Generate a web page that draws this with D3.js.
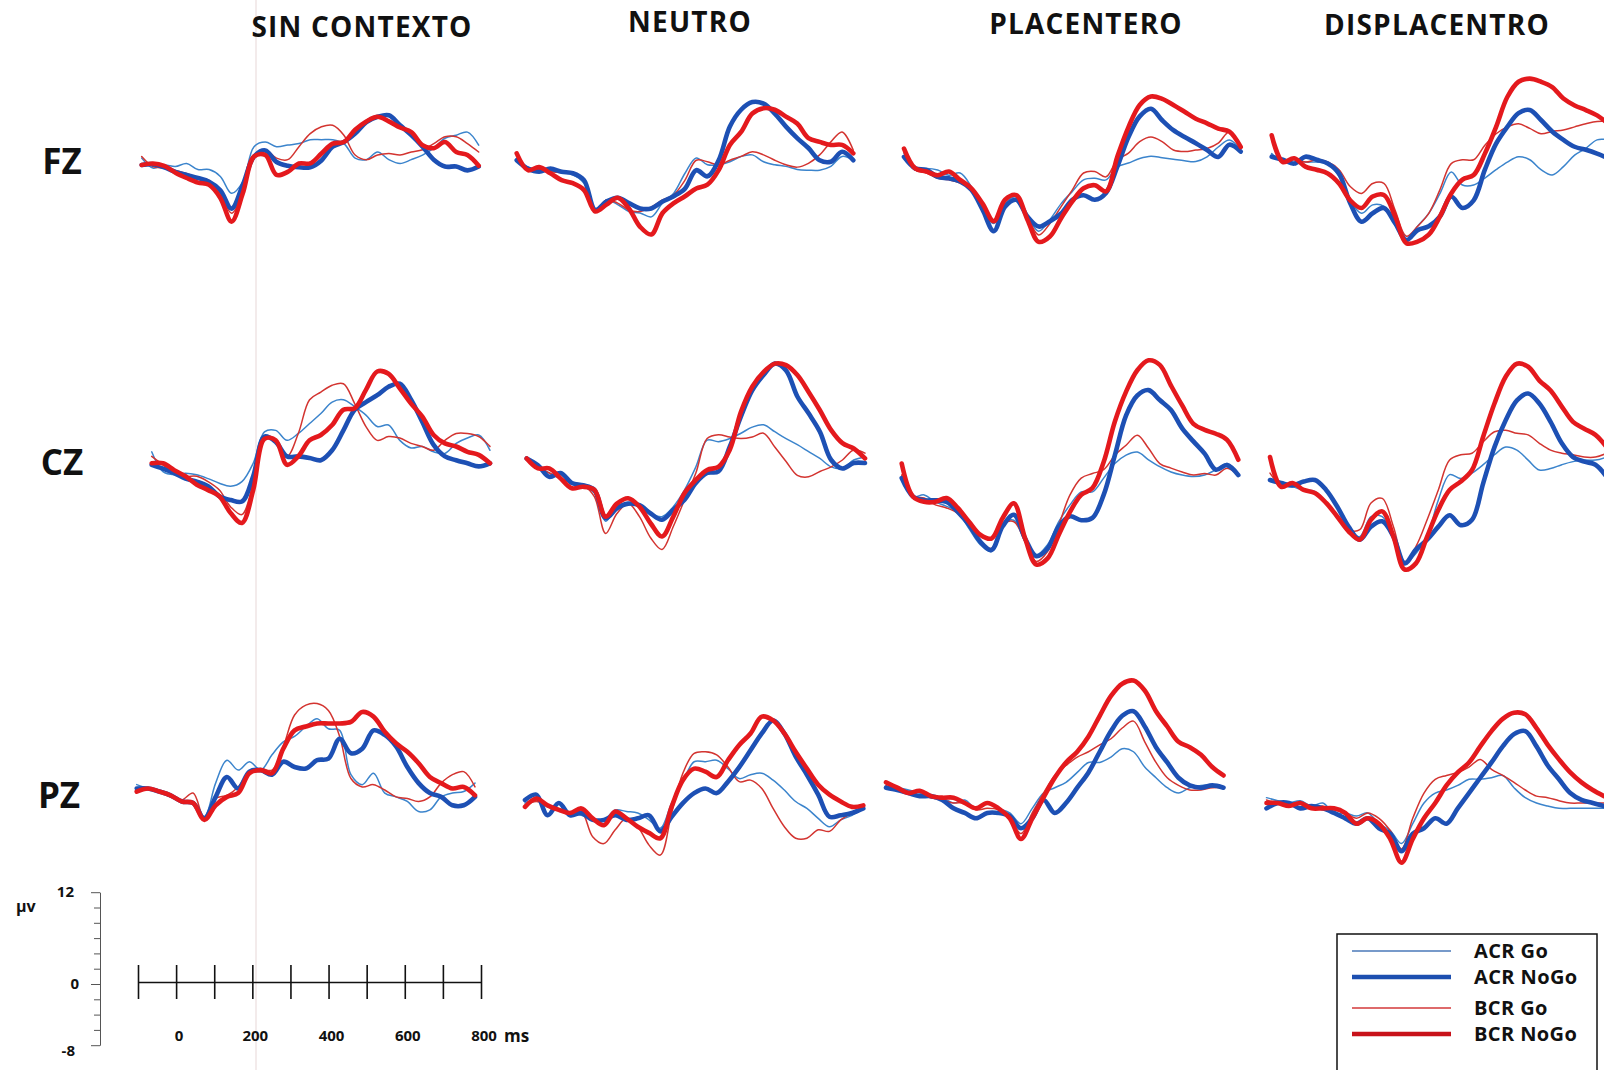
<!DOCTYPE html>
<head>
<meta charset="utf-8">
<title>ERP Go/NoGo</title>
<style>
  body { margin: 0; background: #fff; }
  text { font-family: "Open Sans", "DejaVu Sans", sans-serif; font-weight: 700; fill: #111; }
</style>
</head>
<script src="https://d3js.org/d3.v7.min.js"></script>
<div id="chart"></div>
<script>

// sample times (ms), same grid for every waveform
var times = [-100,-70,-40,-10,20,50,80,110,140,170,200,230,260,290,320,350,380,410,440,470,500,530,560,590,620,650,680,710,740,770,800];

var conditions = ["SIN CONTEXTO", "NEUTRO", "PLACENTERO", "DISPLACENTRO"];
var electrodes = ["FZ", "CZ", "PZ"];
var seriesNames = ["ACR Go", "ACR NoGo", "BCR Go", "BCR NoGo"];

// amplitudes in µV
// FZ
var fz_sin_acrGo   = [0.9,-0.4,0,-0.2,0.2,-0.6,-0.6,-1.5,-3.7,-2.2,2.4,3.0,2.4,2.6,2.8,3.3,3.3,3.3,2.8,0.9,0.7,1.7,0.7,0.2,0.7,1.3,2.2,3.5,3.9,4.3,2.6];
var fz_sin_acrNoGo = [0,0.1,-0.3,-0.9,-1.3,-1.7,-2.2,-3.3,-5.7,-2.6,1.1,1.9,0.4,-0.1,-0.3,-0.3,0.6,2.4,3.0,4.1,5.6,6.3,6.5,5.2,3.9,2.4,0.7,-0.2,-0.2,-0.7,-0.2];
var fz_sin_bcrGo   = [1.1,-0.2,-0.4,-0.7,-1.1,-1.7,-2.0,-3.7,-6.3,-3.7,1.1,2.0,0.9,0.7,2.4,4.1,5.0,5.2,3.9,1.3,0.7,1.3,1.5,1.3,1.7,2.0,2.8,3.7,3.7,2.8,1.7];
var fz_sin_bcrNoGo = [0,0.2,-0.1,-1.0,-1.7,-2.3,-2.6,-4.3,-7.4,-3.7,1.1,1.3,-1.3,-0.9,0.2,0.2,1.5,2.8,3.0,4.6,5.7,6.3,5.7,4.9,4.3,2.6,2.2,3.0,1.7,1.3,-0.1];

var fz_neu_acrGo   = [0.4,-0.5,-0.9,-1.0,-1.2,-1.5,-2.6,-6.1,-4.8,-5.4,-6.3,-6.5,-7.0,-5.2,-3.9,-1.3,0.7,-0.2,-0.2,0.2,0.9,1.1,0.2,-0.2,-0.4,-0.8,-0.9,-0.9,-0.4,0.9,0.4];
var fz_neu_acrNoGo = [0.4,-0.7,-1.1,-0.7,-1.1,-1.3,-2.2,-6.1,-5.0,-4.5,-5.2,-5.9,-5.9,-5.0,-4.3,-3.3,-0.9,-1.7,0.4,4.8,7.0,8.0,7.8,6.5,4.8,3.3,2.0,0.4,0.2,1.5,0.4];
var fz_neu_bcrGo   = [0.9,-0.7,-0.8,-1.1,-1.2,-1.4,-2.2,-6.1,-4.8,-5.2,-6.1,-6.3,-5.7,-4.8,-4.1,-2.2,0.4,0.2,-0.2,0.4,0.9,1.5,1.1,0.4,-0.2,-0.5,0,1.1,2.8,4.1,1.7];
var fz_neu_bcrNoGo = [1.3,-0.9,-0.5,-1.3,-2.2,-2.6,-3.5,-6.3,-5.4,-4.5,-5.9,-8.3,-9.3,-6.5,-5.2,-4.3,-3.3,-2.8,-0.9,2.4,4.1,6.5,7.2,7.0,6.1,5.2,3.3,2.8,2.4,2.4,1.3];

var fz_pla_acrGo   = [0.9,-1.3,-1.1,-1.3,-2.0,-1.7,-3.5,-6.5,-8.3,-5.7,-4.8,-7.4,-9.3,-7.8,-5.7,-4.1,-2.6,-2.4,-2.6,-0.9,-0.4,0.2,0.5,0.3,0.1,-0.1,-0.2,0.4,1.7,2.6,1.3];
var fz_pla_acrNoGo = [0.4,-1.1,-1.3,-2.2,-2.4,-2.8,-3.9,-6.5,-9.3,-6.1,-5.2,-7.4,-8.7,-8.0,-7.0,-5.2,-4.6,-5.2,-4.3,-0.9,3.0,5.7,6.7,5.2,3.9,3.0,2.2,1.3,0.4,2.0,1.1];
var fz_pla_bcrGo   = [1.1,-1.3,-1.7,-2.4,-2.6,-3.0,-3.9,-6.1,-7.8,-5.2,-4.6,-7.4,-9.8,-8.3,-6.1,-3.9,-1.7,-1.5,-2.2,0,0.9,2.4,3.0,2.4,1.3,1.1,1.3,1.5,2.2,3.7,1.7];
var fz_pla_bcrNoGo = [1.5,-1.1,-1.5,-2.0,-1.5,-2.6,-3.7,-5.7,-8.0,-5.2,-4.6,-7.8,-10.7,-10.0,-7.6,-5.4,-3.7,-3.3,-4.1,0.4,4.3,7.2,8.3,8.0,7.2,6.3,5.4,4.8,4.1,3.7,1.7];

var fz_dis_acrGo   = [0.4,-0.7,-0.4,-0.7,-0.7,-0.9,-2.6,-5.7,-7.4,-6.3,-6.5,-8.9,-10.9,-9.1,-7.4,-4.8,-2.0,-3.7,-3.7,-2.8,-1.7,-0.7,0,-0.4,-1.7,-2.4,-1.3,0.2,1.1,2.2,2.2];
var fz_dis_acrNoGo = [0,-0.4,-0.9,0,-0.4,-0.9,-2.2,-6.1,-8.5,-7.4,-6.7,-8.7,-10.9,-9.6,-9.1,-7.8,-5.2,-6.7,-5.7,-1.7,1.7,3.9,5.7,6.1,4.8,3.3,2.2,1.3,0.9,0.4,-0.2];
var fz_dis_bcrGo   = [2.2,-0.4,-0.2,-0.7,-0.4,-0.7,-1.7,-3.9,-4.8,-3.5,-3.5,-7.0,-10.4,-9.1,-7.4,-4.3,-0.9,-0.4,-0.4,1.5,3.0,3.9,4.3,3.7,3.0,3.3,3.5,3.9,4.3,4.6,4.6];
var fz_dis_bcrNoGo = [2.8,-0.7,-0.2,-1.3,-1.7,-2.2,-3.5,-5.7,-6.7,-5.2,-5.0,-7.8,-11.3,-11.1,-10.2,-7.8,-4.8,-3.0,-2.4,0.4,3.9,7.8,9.8,10.2,9.8,9.1,7.6,6.7,6.1,5.4,4.3];

// CZ
var cz_sin_acrGo   = [1.5,-1.1,-1.5,-1.3,-1.5,-2.0,-2.6,-3.0,-2.4,0,4.1,4.3,3.0,3.9,5.2,6.5,8.0,8.3,7.4,6.3,4.8,5.0,3.0,2.0,2.2,1.5,1.3,2.6,3.3,3.7,1.7];
var cz_sin_acrNoGo = [-0.2,-0.7,-1.3,-2.0,-2.4,-3.0,-4.3,-4.8,-5.0,-1.7,3.5,2.8,0.9,0.9,0.7,0.4,1.7,4.3,7.0,8.0,8.9,10.0,10.4,8.3,5.4,2.4,0.9,0.4,0,-0.4,0];
var cz_sin_bcrGo   = [0.9,-0.2,-1.3,-1.7,-1.7,-2.4,-3.5,-5.7,-6.7,-2.6,3.5,3.0,0.9,3.9,8.3,9.3,10.2,10.4,7.8,4.8,3.0,3.5,3.3,2.6,2.2,1.7,3.0,3.9,3.9,3.5,2.2];
var cz_sin_bcrNoGo = [0,0,-0.9,-1.7,-2.8,-3.5,-4.3,-6.5,-7.8,-3.5,3.2,3.0,-0.2,0.9,3.0,3.7,5.0,7.0,7.2,9.6,12.0,11.7,9.8,7.8,6.1,3.7,2.6,2.2,1.5,1.1,0];

var cz_neu_acrGo   = [0,-0.9,-1.7,-2.4,-3.0,-3.5,-4.3,-8.0,-6.1,-5.7,-6.1,-7.0,-7.4,-6.1,-3.9,-0.9,2.6,2.4,2.8,3.5,4.3,4.6,3.7,2.8,2.0,1.1,0.2,-0.9,-1.1,0,0.4];
var cz_neu_acrNoGo = [0.2,-0.7,-2.2,-1.7,-3.0,-3.3,-3.9,-7.6,-6.3,-5.7,-5.9,-7.0,-7.8,-6.5,-5.2,-3.0,-1.7,-1.5,1.7,5.7,9.1,11.1,12.6,11.7,8.3,6.1,3.7,0,-1.1,-0.4,-0.4];
var cz_neu_bcrGo   = [0.2,-0.9,-1.7,-2.4,-3.0,-3.3,-4.8,-9.6,-7.0,-5.7,-7.4,-10.2,-11.7,-8.7,-5.2,-1.7,2.8,3.3,3.0,2.8,3.0,3.5,1.7,-0.2,-2.0,-2.2,-1.5,-0.9,0,1.3,0.9];
var cz_neu_bcrNoGo = [0.2,-1.1,-1.1,-2.4,-3.7,-3.5,-3.9,-7.4,-5.7,-5.0,-6.1,-8.3,-10.0,-7.4,-4.3,-2.6,-1.3,-0.9,1.3,6.3,9.6,11.5,12.6,12.4,11.1,8.9,6.5,3.9,2.2,1.5,0.2];

var cz_pla_acrGo   = [0.7,-1.5,-1.3,-2.2,-2.8,-3.5,-5.7,-7.8,-8.7,-5.2,-4.6,-7.0,-9.1,-7.8,-4.8,-2.6,-0.9,-0.9,0.9,2.8,3.9,4.3,3.3,2.4,1.7,1.3,1.1,1.3,2.0,2.8,1.3];
var cz_pla_acrNoGo = [0.9,-1.5,-2.0,-2.0,-2.2,-3.5,-5.2,-7.4,-8.5,-5.4,-3.9,-7.0,-9.3,-8.3,-5.4,-4.1,-4.6,-4.3,-1.3,3.9,9.1,11.7,12.4,11.1,9.8,7.4,5.7,4.1,2.0,2.6,1.3];
var cz_pla_bcrGo   = [1.3,-1.5,-1.7,-2.6,-3.0,-3.7,-5.4,-7.4,-8.3,-5.2,-4.8,-7.4,-10.0,-8.7,-5.2,-1.3,0.9,1.5,2.0,3.9,5.2,6.5,4.8,2.8,2.2,1.7,1.3,1.5,1.3,2.2,1.3];
var cz_pla_bcrNoGo = [2.8,-1.5,-2.2,-2.2,-1.7,-3.0,-4.8,-6.5,-7.0,-4.3,-2.4,-7.0,-10.4,-9.6,-6.5,-3.5,-1.3,-0.4,3.0,8.3,12.2,15.0,16.3,15.7,13.0,10.4,8.0,7.2,6.7,5.9,3.3];

var cz_dis_acrGo   = [0,-0.7,-0.9,-1.3,-1.5,-3.0,-5.0,-6.7,-7.4,-4.8,-4.8,-7.6,-10.9,-9.6,-7.4,-2.6,0.7,0.2,0.9,2.0,3.3,4.3,3.9,2.6,1.3,1.5,2.0,2.4,2.6,2.6,3.0];
var cz_dis_acrNoGo = [0,-0.4,-0.7,-0.2,0,-1.3,-3.5,-6.1,-7.8,-6.1,-5.4,-7.4,-10.9,-9.1,-7.8,-6.1,-4.6,-5.9,-5.2,-0.4,4.3,7.8,10.4,11.3,10.0,7.6,4.8,3.0,2.4,2.0,0.4];
var cz_dis_bcrGo   = [0.9,-0.7,-0.7,-1.3,-1.7,-3.0,-4.8,-6.5,-6.5,-3.0,-2.4,-6.1,-10.7,-8.7,-5.2,-1.3,2.6,3.3,3.5,5.0,6.3,6.5,6.1,5.9,4.8,3.9,3.5,3.3,3.0,3.0,3.5];
var cz_dis_bcrNoGo = [3.0,-0.9,-0.4,-1.3,-1.7,-3.0,-4.8,-6.7,-7.8,-5.2,-4.1,-7.4,-11.7,-10.9,-7.4,-3.9,-1.3,-0.2,1.3,5.7,10.0,13.5,15.2,14.8,13.0,11.7,9.6,7.6,6.7,5.9,4.3];

// PZ
var pz_sin_acrGo   = [0.7,0.2,-0.2,-0.9,-1.5,-1.5,-3.5,0.9,3.9,2.6,3.7,2.6,4.6,6.3,7.0,8.3,9.3,8.0,7.8,2.0,0.7,2.2,-0.4,-0.9,-1.5,-2.8,-2.6,-0.9,-0.4,-0.2,0.9];
var pz_sin_acrNoGo = [0.2,0.2,-0.2,-0.7,-1.5,-1.7,-3.7,-0.9,1.7,0.2,2.4,2.6,2.0,3.7,3.0,2.8,3.9,4.1,6.7,4.8,5.4,7.8,7.2,5.7,3.0,0.9,-0.4,-0.9,-2.0,-2.0,-0.9];
var pz_sin_bcrGo   = [0,0.2,-0.2,-0.9,-1.3,-0.4,-3.7,-1.1,-0.7,0.4,2.4,2.8,2.6,5.7,9.8,11.1,11.3,10.4,7.0,1.5,0.4,0.7,0,-0.9,-1.1,-1.5,-0.9,0.9,2.0,2.4,0.4];
var pz_sin_bcrNoGo = [-0.2,0.2,-0.2,-0.7,-1.5,-1.7,-3.9,-2.0,-0.9,-0.4,2.2,2.6,2.2,5.4,7.8,8.3,8.7,8.7,8.7,8.9,10.2,9.6,7.6,6.1,5.0,3.5,1.7,0.9,0.2,0.4,-0.7];

var pz_neu_acrGo   = [-0.4,0,-0.9,-1.3,-1.7,-2.0,-2.6,-2.6,-1.3,-1.5,-1.7,-2.6,-3.7,-0.4,2.4,5.0,5.0,5.2,4.1,2.8,3.3,3.5,2.6,1.3,-0.2,-1.1,-2.4,-3.5,-2.6,-2.0,-1.1];
var pz_neu_acrNoGo = [0,0.7,-2.0,-0.4,-2.0,-1.7,-2.6,-2.6,-2.0,-2.6,-2.4,-2.0,-4.1,-2.2,-0.4,0.9,1.5,0.9,2.4,4.3,6.5,8.7,10.4,8.7,5.7,3.3,0.7,-2.2,-2.0,-1.7,-1.1];
var pz_neu_bcrGo   = [-0.7,-0.2,-0.7,-1.1,-1.7,-1.5,-4.8,-5.7,-3.9,-2.4,-3.5,-5.9,-7.2,-1.7,3.5,6.1,6.3,5.9,4.3,2.4,2.6,1.5,-1.1,-3.5,-5.0,-5.0,-3.9,-4.1,-2.6,-1.7,-0.9];
var pz_neu_bcrNoGo = [-0.9,0.2,-0.7,-1.3,-1.7,-1.1,-2.4,-3.3,-1.5,-2.4,-3.5,-4.3,-5.0,-0.9,2.6,4.1,3.7,3.0,5.2,7.2,8.7,10.9,10.4,8.7,6.3,4.1,2.0,0.7,-0.2,-0.9,-0.7];

var pz_pla_acrGo   = [0,0,-0.3,-0.7,-1.1,-1.3,-2.0,-1.6,-2.7,-2.0,-2.7,-3.3,-4.7,-2.7,-0.7,0,0.7,2.0,3.3,3.3,4.0,5.1,4.7,2.7,1.3,0,-0.7,0,0.3,0.3,0];
var pz_pla_acrNoGo = [0,-0.3,-0.7,-1.1,-1.1,-1.6,-2.7,-3.3,-4.0,-3.3,-3.3,-3.7,-5.3,-4.0,-1.6,-3.3,-2.0,0,2.0,4.7,7.4,9.4,10.0,8.0,5.3,3.3,1.3,0.3,0,0.3,0];
var pz_pla_bcrGo   = [0.3,-0.3,-0.7,-1.1,-1.3,-1.6,-2.0,-2.0,-2.9,-2.7,-2.9,-4.0,-6.0,-3.3,-0.7,1.6,2.9,4.0,4.7,5.6,6.4,7.8,8.7,6.0,3.3,1.3,0.3,-0.3,-0.3,0,0];
var pz_pla_bcrNoGo = [0.7,0,-0.7,-0.4,-1.1,-1.3,-1.3,-2.0,-2.7,-2.0,-2.7,-4.0,-6.7,-4.0,-1.3,1.3,3.3,4.7,6.7,9.4,12.0,13.6,14.0,12.7,10.0,8.0,6.0,5.3,4.3,2.7,1.6];

var pz_dis_acrGo   = [0.7,0.3,0,0.3,-0.4,0,-1.3,-1.3,-1.7,-1.3,-2.7,-3.6,-5.3,-2.7,0,1.3,1.7,2.3,3.1,3.1,3.3,3.6,2.0,0.7,0,-0.4,-0.7,-0.7,-0.7,-0.7,-0.7];
var pz_dis_acrNoGo = [-0.7,0,0,-0.7,-0.4,-0.7,-1.3,-2.0,-2.7,-2.0,-3.3,-4.0,-6.3,-4.0,-3.3,-2.0,-2.7,-0.7,1.3,3.3,5.3,7.4,9.0,9.4,7.4,4.9,3.1,1.3,0.4,0,-0.4];
var pz_dis_bcrGo   = [0.4,0,0,0,-0.7,-0.4,-0.9,-1.3,-2.0,-1.3,-2.0,-3.6,-6.0,-2.0,1.3,3.1,3.6,4.0,4.7,5.7,4.4,3.6,2.7,1.7,0.9,0.7,0.3,0,0,0,0];
var pz_dis_bcrNoGo = [0,0,-0.4,0,-0.7,-0.7,-0.7,-1.3,-2.7,-2.0,-2.7,-4.7,-7.8,-4.7,-2.0,0,2.3,4.0,5.3,7.4,9.4,11.0,11.8,11.6,9.8,7.6,5.7,4.0,2.7,1.7,0.9];

// scale bar ticks
var barTimeTicks = [-100,0,100,200,300,400,500,600,700,800];
var barTimeLabels = [0,200,400,600,800];
var barVoltTicks = [-8,-6,-4,-2,0,2,4,6,8,10,12];
var barVoltLabels = [12,0,-8];

// ---- layout ----
var W = 1604, H = 1070;
var pxPerUv = 7.65;

var svg = d3.select("#chart").append("svg")
    .attr("width", W).attr("height", H)

// waveforms per panel [row][col]
var waves = [
  [[fz_sin_acrGo,fz_sin_acrNoGo,fz_sin_bcrGo,fz_sin_bcrNoGo],
   [fz_neu_acrGo,fz_neu_acrNoGo,fz_neu_bcrGo,fz_neu_bcrNoGo],
   [fz_pla_acrGo,fz_pla_acrNoGo,fz_pla_bcrGo,fz_pla_bcrNoGo],
   [fz_dis_acrGo,fz_dis_acrNoGo,fz_dis_bcrGo,fz_dis_bcrNoGo]],
  [[cz_sin_acrGo,cz_sin_acrNoGo,cz_sin_bcrGo,cz_sin_bcrNoGo],
   [cz_neu_acrGo,cz_neu_acrNoGo,cz_neu_bcrGo,cz_neu_bcrNoGo],
   [cz_pla_acrGo,cz_pla_acrNoGo,cz_pla_bcrGo,cz_pla_bcrNoGo],
   [cz_dis_acrGo,cz_dis_acrNoGo,cz_dis_bcrGo,cz_dis_bcrNoGo]],
  [[pz_sin_acrGo,pz_sin_acrNoGo,pz_sin_bcrGo,pz_sin_bcrNoGo],
   [pz_neu_acrGo,pz_neu_acrNoGo,pz_neu_bcrGo,pz_neu_bcrNoGo],
   [pz_pla_acrGo,pz_pla_acrNoGo,pz_pla_bcrGo,pz_pla_bcrNoGo],
   [pz_dis_acrGo,pz_dis_acrNoGo,pz_dis_bcrGo,pz_dis_bcrNoGo]]
];

// panel boxes: left/right x of the -100..800 ms span and the 0 µV level (the scan is a bit crooked)
var panelBox = [
  [{x0:141.7,x1:478.7,y0:165}, {x0:516.7,x1:853.3,y0:163.3}, {x0:904,x1:1240.7,y0:160}, {x0:1271.7,x1:1608.3,y0:156.7}],
  [{x0:151.7,x1:490,y0:463.3}, {x0:526.7,x1:865,y0:460},     {x0:901.7,x1:1238.3,y0:485}, {x0:1270,x1:1606.7,y0:480}],
  [{x0:136.7,x1:475,y0:790},   {x0:525,x1:863.3,y0:800},     {x0:886,x1:1223.5,y0:787.7}, {x0:1266.5,x1:1604,y0:803}]
];

var style = [
  {color:"#3b84cc", width:1.5},   // ACR Go
  {color:"#1d50b4", width:4.6},   // ACR NoGo
  {color:"#d33430", width:1.5},   // BCR Go
  {color:"#e4191d", width:4.6}    // BCR NoGo
];
var legendColor = ["#4a78b8", "#1d4fb0", "#d3383a", "#c8121a"];
var drawOrder = [0, 2, 1, 3];

// faint vertical line from the scan
svg.append("line")
    .attr("x1", 256).attr("x2", 256).attr("y1", 0).attr("y2", H)
    .attr("stroke", "#efe4e4").attr("stroke-width", 1.5)

// condition titles
var titlePos = [{x:362,y:37},{x:690,y:32},{x:1086,y:34},{x:1437,y:35}];
svg.selectAll(".title").data(conditions).enter().append("text")
    .attr("x", function(d,i){ return titlePos[i].x })
    .attr("y", function(d,i){ return titlePos[i].y })
    .attr("text-anchor", "middle")
    .style("font-size", "28px")
    .style("letter-spacing", "1.2px")
    .text(function(d){ return d })

// electrode labels
var rowLabelPos = [{x:62,y:174},{x:62,y:475},{x:59,y:808}];
svg.selectAll(".row").data(electrodes).enter().append("text")
    .attr("x", function(d,i){ return rowLabelPos[i].x })
    .attr("y", function(d,i){ return rowLabelPos[i].y })
    .attr("text-anchor", "middle")
    .style("font-size", "35px")
    .text(function(d){ return d })

// waveforms
waves.forEach(function(row, r){
  row.forEach(function(panel, c){
    var box = panelBox[r][c];
    var x = d3.scaleLinear().domain([-100, 800]).range([box.x0, box.x1]);
    var y = d3.scaleLinear().domain([-8, 12]).range([box.y0 + 8*pxPerUv, box.y0 - 12*pxPerUv]);
    var line = d3.line()
        .x(function(d,i){ return x(times[i]) })
        .y(function(d){ return y(d) })
        .curve(d3.curveCatmullRom.alpha(0.5));
    var g = svg.append("g");
    drawOrder.forEach(function(s){
      g.append("path")
        .datum(panel[s])
        .attr("d", line)
        .attr("fill", "none")
        .attr("stroke", style[s].color)
        .attr("stroke-width", style[s].width)
        .attr("stroke-linejoin", "round")
        .attr("stroke-linecap", "round")
    });
  });
});

// ---- scale bar ----
var xBar = d3.scaleLinear().domain([-100, 800]).range([138, 481]);
var yBar = d3.scaleLinear().domain([-8, 12]).range([984 + 8*pxPerUv, 984 - 12*pxPerUv]);

var tAxis = svg.append("g")
    .attr("transform", "translate(0,982)")
    .call(d3.axisBottom(xBar).tickValues(barTimeTicks).tickSize(17).tickSizeOuter(0).tickFormat(""))
tAxis.select(".domain").attr("stroke", "#111").attr("stroke-width", 1.6)
tAxis.selectAll(".tick line").attr("y1", -17).attr("stroke", "#111").attr("stroke-width", 1.6)

svg.selectAll(".tlab").data(barTimeLabels).enter().append("text")
    .attr("x", function(d){ return xBar(d) + 3 })
    .attr("y", 1041)
    .attr("text-anchor", "middle")
    .style("font-size", "15px")
    .text(function(d){ return d })
svg.append("text").attr("x", 504).attr("y", 1042).style("font-size", "17px").text("ms")

var vAxis = svg.append("g")
    .attr("transform", "translate(100,0)")
    .call(d3.axisLeft(yBar).tickValues(barVoltTicks).tickSize(6).tickSizeOuter(0).tickFormat(""))
vAxis.select(".domain").attr("stroke", "#555").attr("stroke-width", 1)
vAxis.selectAll(".tick line").attr("stroke", "#555")
  .attr("x2", function(d){ return barVoltLabels.indexOf(d) >= 0 ? -9 : -6 })

var vLabelX = {"12":74, "0":79, "-8":75};
svg.selectAll(".vlab").data(barVoltLabels).enter().append("text")
    .attr("x", function(d){ return vLabelX[d] })
    .attr("y", function(d){ return yBar(d) + 5 + (d === -8 ? 6 : 0) })
    .attr("text-anchor", "end")
    .style("font-size", "15px")
    .text(function(d){ return d })
svg.append("text").attr("x", 16).attr("y", 912).style("font-size", "16px").text("µv")

// ---- legend ----
svg.append("rect")
    .attr("x", 1337).attr("y", 934).attr("width", 260).attr("height", 150)
    .attr("fill", "white").attr("stroke", "#111").attr("stroke-width", 1.5)

var legendY = [951, 977, 1008, 1034];
var leg = svg.selectAll(".leg").data(seriesNames).enter().append("g")
leg.append("line")
    .attr("x1", 1352).attr("x2", 1451)
    .attr("y1", function(d,i){ return legendY[i] }).attr("y2", function(d,i){ return legendY[i] })
    .attr("stroke", function(d,i){ return legendColor[i] })
    .attr("stroke-width", function(d,i){ return style[i].width })
leg.append("text")
    .attr("x", 1474)
    .attr("y", function(d,i){ return legendY[i] + 7 })
    .style("font-size", "20px")
    .style("letter-spacing", "0.4px")
    .text(function(d){ return d })

</script>
